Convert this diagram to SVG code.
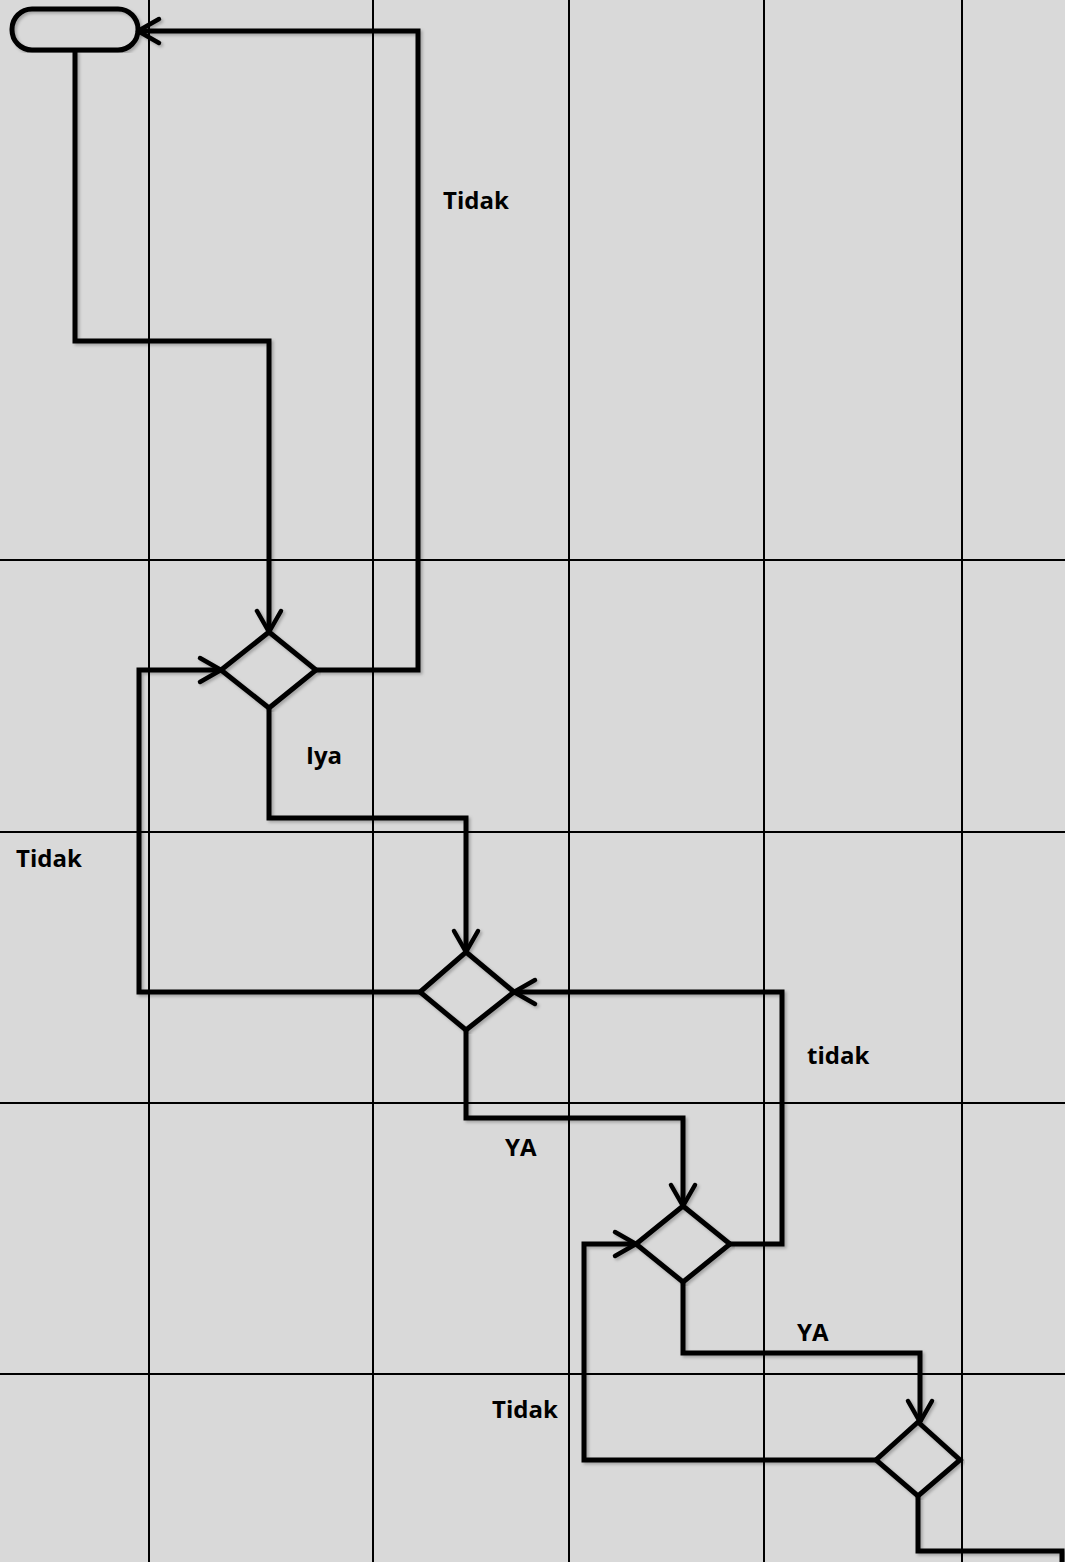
<svg xmlns="http://www.w3.org/2000/svg" width="1065" height="1562" viewBox="0 0 1065 1562">
<style>
.grid{stroke:#000;stroke-width:2;fill:none}
.conn{stroke:#000;stroke-width:5;fill:none;stroke-linejoin:miter}
.node{stroke:#000;stroke-width:5;fill:none}
.lbl{font-family:"Open Sans","Liberation Sans",sans-serif;font-weight:bold;font-size:24px;fill:#000}
</style>
<defs>
<filter id="sh" x="-5%" y="-5%" width="110%" height="110%">
<feDropShadow dx="2" dy="2" stdDeviation="1.5" flood-color="#000" flood-opacity="0.25"/>
</filter>
<marker id="arr" markerUnits="userSpaceOnUse" viewBox="-26 -16 30 32" refX="0" refY="0" markerWidth="30" markerHeight="32" orient="auto">
<path d="M-21,-12 L0,0 L-21,12" fill="none" stroke="#000" stroke-width="4.5" stroke-linecap="round" stroke-linejoin="round"/>
</marker>
</defs>
<rect width="1065" height="1562" fill="#d9d9d9"/>
<g id="grid" class="grid">
<line x1="149" y1="0" x2="149" y2="1562"/>
<line x1="373" y1="0" x2="373" y2="1562"/>
<line x1="569" y1="0" x2="569" y2="1562"/>
<line x1="764" y1="0" x2="764" y2="1562"/>
<line x1="962" y1="0" x2="962" y2="1562"/>
<line x1="0" y1="560" x2="1065" y2="560"/>
<line x1="0" y1="832" x2="1065" y2="832"/>
<line x1="0" y1="1103" x2="1065" y2="1103"/>
<line x1="0" y1="1374" x2="1065" y2="1374"/>
</g>
<g id="connectors" class="conn" filter="url(#sh)">
<polyline points="75,50 75,341 269,341 269,632" marker-end="url(#arr)"/>
<polyline points="316,670 418,670 418,31 138,31" marker-end="url(#arr)"/>
<polyline points="269,708 269,818 466,818 466,952" marker-end="url(#arr)"/>
<polyline points="420,992 139,992 139,670 221,670" marker-end="url(#arr)"/>
<polyline points="466,1030 466,1118 683,1118 683,1206" marker-end="url(#arr)"/>
<polyline points="730,1244 782,1244 782,992 514,992" marker-end="url(#arr)"/>
<polyline points="683,1282 683,1353 920,1353 920,1422" marker-end="url(#arr)"/>
<polyline points="876,1460 584,1460 584,1244 636,1244" marker-end="url(#arr)"/>
<polyline points="918,1496 918,1551 1062,1551 1062,1562"/>
</g>
<g id="start" filter="url(#sh)"><rect class="node" x="12" y="9" width="126" height="41" rx="20" ry="20"/></g>
<g id="decision1" filter="url(#sh)"><polygon class="node" points="269,632 316,670 269,708 221,670"/></g>
<g id="decision2" filter="url(#sh)"><polygon class="node" points="466,952 514,992 466,1030 420,992"/></g>
<g id="decision3" filter="url(#sh)"><polygon class="node" points="683,1206 730,1244 683,1282 636,1244"/></g>
<g id="decision4" filter="url(#sh)"><polygon class="node" points="918,1422 960,1460 918,1496 876,1460"/></g>
<g id="labels">
<text class="lbl" x="443" y="209">Tidak</text>
<text class="lbl" x="306" y="764">Iya</text>
<text class="lbl" x="16" y="867">Tidak</text>
<text class="lbl" x="505" y="1156">YA</text>
<text class="lbl" x="807" y="1064">tidak</text>
<text class="lbl" x="797" y="1341">YA</text>
<text class="lbl" x="492" y="1418">Tidak</text>
</g>
</svg>
